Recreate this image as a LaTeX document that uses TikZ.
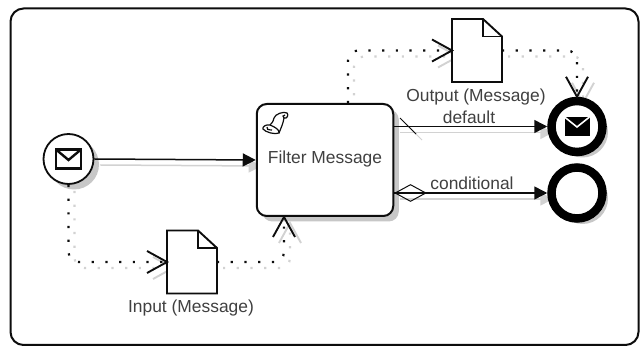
\documentclass[tikz,border=0pt]{standalone}
\usepackage{fontspec}
\setmainfont{Liberation Sans}
\usetikzlibrary{arrows.meta,shapes.geometric,shadows}
\pgfdeclarelayer{bg}
\pgfdeclarelayer{shad}
\pgfsetlayers{bg,shad,main}
\definecolor{ink}{gray}{0.05}
\definecolor{labelc}{gray}{0.25}
\definecolor{shadowc}{gray}{0.78}
\colorlet{fc}{ink}
\pgfdeclarearrow{
  name=VBarb,
  setup code={
    \pgfarrowssettipend{0pt}
    \pgfarrowssetlineend{-1pt}
    \pgfarrowssetvisualbackend{-20pt}
    \pgfarrowshullpoint{0pt}{0pt}
    \pgfarrowsupperhullpoint{-20pt}{11pt}
  },
  drawing code={
    \pgfsetdash{}{0pt}
    \pgfsetlinewidth{1.9pt}
    \pgfsetmiterjoin
    \pgfpathmoveto{\pgfpoint{-20pt}{11pt}}
    \pgfpathlineto{\pgfpointorigin}
    \pgfpathlineto{\pgfpoint{-20pt}{-11pt}}
    \pgfusepathqstroke
  }
}
\tikzset{
  shad/.style={drop shadow={shadow xshift=5.5pt,shadow yshift=-5.5pt,fill=shadowc,opacity=1}},
  eventstart/.style={circle,draw=ink,fill=white,line width=1.8,minimum size=50,inner sep=0,shad},
  eventend/.style={circle,draw=black,fill=white,line width=8.5,minimum size=51,inner sep=0,shad},
  taskbox/.style={rectangle,rounded corners=10,draw=ink,fill=white,line width=2,minimum width=136.5,minimum height=112,inner sep=0,shad},
  docbox/.style={rectangle,minimum width=50,minimum height=63,inner sep=0,outer sep=0},
  lbl/.style={text=labelc,font=\fontsize{17.4}{20}\selectfont,inner sep=0},
  seqflow/.style={draw=fc,line width=1.5,-{Triangle[length=13,width=13,fill=fc]}},
  assoc/.style={draw=fc,line width=2.2,dash pattern=on 2.2 off 11.5,rounded corners=10,-VBarb},
}
\newcommand{\docshape}[1]{%
  \begin{pgfonlayer}{shad}
    \fill[shadowc,shift={(5.5,5.5)}] (#1.north west)--++(31,0)--++(19,17.5)--(#1.south east)--(#1.south west)--cycle;
  \end{pgfonlayer}
  \draw[ink,line width=1.9,fill=white,line join=miter] (#1.north west)--++(31,0)--++(19,17.5)--(#1.south east)--(#1.south west)--cycle;
  \draw[ink,line width=1.9] ([xshift=31]#1.north west)--++(0,17.5)--++(19,0);
}
\newcommand{\allflows}{%
  \draw[seqflow] (start.east) -- (task.west);
  \draw[seqflow] (task.east |- endmsg.west) -- (endmsg.west);
  \draw[seqflow] (task.east |- endplain.west) -- (endplain.west);
  \draw[assoc] (start.south) |- (docin.west);
  \draw[assoc] (docin.east) -| (tin);
  \draw[assoc] (tout) |- (docout.west);
  \draw[assoc] (docout.east) -| (endmsg.north);
}
\begin{document}
\begin{tikzpicture}[x=1pt,y=-1pt]
\useasboundingbox (0,0) rectangle (640,347);
\begin{pgfonlayer}{bg}
  \fill[white] (0,0) rectangle (640,347);
  \draw[ink,line width=2,rounded corners=13] (10.5,8.5) rectangle (638.5,345);
\end{pgfonlayer}

\node[eventstart] (start) at (68.5,159) {};
\node[taskbox] (task) at (325,160) {};
\node[docbox] (docin) at (192,262) {};
\node[docbox] (docout) at (477,50.5) {};
\node[eventend] (endmsg) at (577,126.5) {};
\node[eventend] (endplain) at (577,193) {};
\docshape{docin}
\docshape{docout}

\coordinate (tin) at (284,217);
\coordinate (tout) at (348,103);
\coordinate (slashA) at (400,118);
\coordinate (slashB) at (416,134);

\begin{pgfonlayer}{shad}
  \begin{scope}[transform canvas={xshift=6pt,yshift=-6pt}]
    \colorlet{fc}{gray!35}
    \allflows
    \draw[gray!35,line width=1] (slashA) -- (slashB);
  \end{scope}
\end{pgfonlayer}

\node[diamond,draw=ink,line width=1,minimum width=31,minimum height=17,inner sep=0,aspect=1.8] (cond) at (410.5,193) {};
\draw[ink,line width=1] (slashA) -- (slashB);
\allflows

% envelopes
\begin{scope}[shift={(start.center)}]
  \draw[ink,line width=2.4,line join=miter] (-12.5,-9.5) rectangle (12.5,9.5);
  \draw[ink,line width=2.4] (-12.5,-9.5) -- (0,1) -- (12.5,-9.5);
\end{scope}
\begin{scope}[shift={(endmsg.center)}]
  \fill[black] (-12.5,-9.5) rectangle (12.5,10);
  \draw[white,line width=1.6] (-12.5,-9.5) -- (0,0.5) -- (12.5,-9.5);
\end{scope}

% script icon
\begin{scope}[ink,line width=1.2]
  \draw (274,118) .. controls (275,114) and (284,111) .. (287,113)
        .. controls (289,115) and (287,119) .. (284,118) .. controls (282,117) and (283,115) .. (285,115);
  \draw (274,118) .. controls (273,122) and (272,123) .. (270,125);
  \draw (284,118) .. controls (283,124) and (281,128) .. (279,133);
  \draw (270,125) .. controls (266,124) and (262,127) .. (263,129)
        .. controls (265,132) and (275,135) .. (279,133) .. controls (280,130) and (275,127) .. (270,125);
  \draw (267,127) .. controls (266,129) and (268,130) .. (272,130);
\end{scope}

\node[lbl] (ltask) at (325,159) {Filter Message};
\node[lbl] (lin) at (191,308) {Input (Message)};
\node[lbl] (lout) at (476,97) {Output (Message)};
\node[lbl] (ldef) at (469,117) {default};
\node[lbl] (lcond) at (472,183) {conditional};
\end{tikzpicture}
\end{document}
